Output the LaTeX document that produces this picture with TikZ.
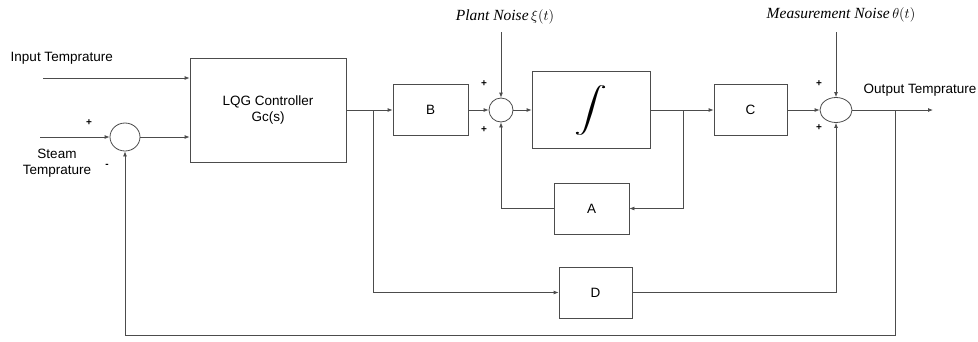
\documentclass[tikz,border=0pt]{standalone}
\usepackage{fontspec}
\setmainfont{Liberation Sans}
\newfontfamily\noisefont{Liberation Serif}
\usepackage{tikz}
\usetikzlibrary{calc, shapes.geometric, arrows.meta, positioning}

\begin{document}
\begin{tikzpicture}[
        x=1pt, y=-1pt,
        line width=0.8pt, draw=black!70,
        >={Latex[length=5pt, width=4pt]},
        every node/.style={font=\fontsize{13.5}{15.5}\selectfont},
        blk/.style={draw=black!70, rectangle, inner sep=0pt, minimum height=51pt},
        sum/.style={draw=black!70, ellipse, inner sep=0pt},
        sgn/.style={font=\fontsize{10}{10}\selectfont\bfseries, inner sep=0pt},
        noise/.style={font=\fontsize{15.5}{18}\selectfont\noisefont\itshape}
]
\useasboundingbox (0,0) rectangle (978,341);

%--- blocks --------------------------------------------------
\node[blk, minimum width=156pt, minimum height=104pt, align=center]
      (lqg) at (268,110) {LQG Controller\\Gc(s)};
\node[blk, minimum width=75pt]  (B)    at (430.5,110) {B};
\node[blk, minimum width=118pt, minimum height=77pt]
      (intg) at (591,110) {\scalebox{3.3}[2.25]{$\displaystyle\int$}};
\node[blk, minimum width=73pt]  (C)    at (750.5,110) {C};
\node[blk, minimum width=75pt]  (A)    at (591.5,208.5) {A};
\node[blk, minimum width=73pt]  (D)    at (595.5,292.5) {D};

%--- summing junctions ---------------------------------------
\node[sum, minimum width=30pt, minimum height=28pt] (sumS) at (125,137) {};
\node[sum, minimum width=24pt, minimum height=24pt] (sumP) at (501,110) {};
\node[sum, minimum width=32pt, minimum height=25pt] (sumM) at (836,110) {};

%--- free ends and branch points -----------------------------
\coordinate (inT)   at (43,78);      % input temperature
\coordinate (inS)   at (40,137);     % steam temperature
\coordinate (nP)    at (501,32);     % plant noise
\coordinate (nM)    at (836,32);     % measurement noise
\coordinate (outT)  at (933,110);    % output
\coordinate (br1)   at (373,110);    % to D
\coordinate (br2)   at (683,110);    % to A
\coordinate (br3)   at (895,110);    % feedback
\coordinate (bot)   at (0,335);

%--- labels --------------------------------------------------
\node[anchor=west] (lblIn) at (7,58) {Input Temprature};
\node[align=center] (lblSt) at (57,163) {Steam\\Temprature};
\node[anchor=west] (lblOut) at (860,90) {Output Temprature};
\node[noise] (lblP) at (505,17) {Plant Noise\,$\xi(t)$};
\node[noise] (lblM) at (841,15) {Measurement Noise\,$\theta(t)$};

\node[sgn] at (89,123)  {+};
\node[sgn] at (107,166) {-};
\node[sgn] at (484,84)  {+};
\node[sgn] at (484,130) {+};
\node[sgn] at (819,84)  {+};
\node[sgn] at (819,128) {+};

%--- forward path --------------------------------------------
\draw[->] (inT) -- (inT -| lqg.west);
\draw[->] (inS) -- (sumS.west);
\draw[->] (sumS.east) -- (sumS.east -| lqg.west);
\draw[->] (lqg.east) -- (B.west);
\draw[->] (B.east) -- (sumP.west);
\draw[->] (nP) -- (sumP.north);
\draw[->] (sumP.east) -- (intg.west);
\draw[->] (intg.east) -- (C.west);
\draw[->] (C.east) -- (sumM.west);
\draw[->] (nM) -- (sumM.north);
\draw[->] (sumM.east) -- (outT);

%--- inner loops ---------------------------------------------
\draw[->] (br2) |- (A.east);
\draw[->] (A.west) -| (sumP.south);
\draw[->] (br1) |- (D.west);
\draw[->] (D.east) -| (sumM.south);

%--- outer feedback ------------------------------------------
\draw[->] (br3) -- (br3 |- bot) -- (sumS |- bot) -- (sumS.south);

\end{tikzpicture}
\end{document}
